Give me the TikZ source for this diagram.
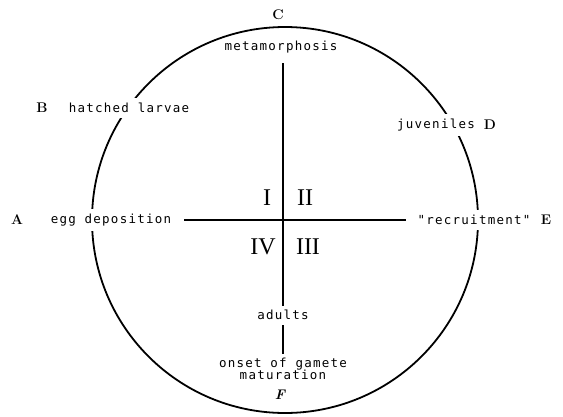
\documentclass[tikz,border=0pt]{standalone}
\usepackage{fontspec}
\newfontfamily\labfont[LetterSpace=10]{DejaVu Sans Mono}
\newfontfamily\numfont{Liberation Serif}
\begin{document}
\begin{tikzpicture}[x=1pt,y=-1pt,
  lab/.style={font=\labfont\fontsize{12.5}{14}\selectfont, inner sep=2pt},
  cutlab/.style={lab, fill=white, inner xsep=3pt, inner ysep=5pt},
  letter/.style={font=\fontsize{14}{16}\selectfont\bfseries, inner sep=1pt},
  quad/.style={font=\numfont\fontsize{24}{26}\selectfont, inner sep=0pt},
  ring/.style={line width=1.8pt},
  axis/.style={line width=1.7pt}]
\useasboundingbox (0,0) rectangle (563,416);
\coordinate (O) at (283,221);
\draw[ring] (285,220) circle[radius=193];
% labels on the ring
\node[cutlab] (hatch) at (129,108) {hatched larvae};
\node[letter] (B) at (42,108) {B};
\node[cutlab] (egg) at (111,220) {egg deposition};
\node[letter] (A) at (17,220) {A};
\node[cutlab] (recr) at (474,220) {"recruitment"};
\node[letter] (E) at (546,220) {E};
\node[cutlab] (juv) at (436,125) {juveniles};
\node[letter] (D) at (490,125) {D};
\node[letter] (C) at (278,15) {C};
\node[lab] (meta) at (281,47) {metamorphosis};
\node[lab] (adults) at (283,315) {adults};
\node[lab, align=center, inner sep=1pt] (onset) at (283,369) {onset of gamete\\[-2pt]maturation};
\node[font=\fontsize{14}{16}\selectfont\bfseries\itshape, inner sep=1pt] (F) at (280,395) {F};
% quadrants
\node[quad] (q1) at (267,198) {I};
\node[quad] (q2) at (305,198) {II};
\node[quad] (q4) at (263,247) {IV};
\node[quad] (q3) at (308,247) {III};
% axes
\draw[axis, shorten <=8pt, shorten >=2pt] (O |- meta.south) -- (O |- adults.north);
\draw[axis, shorten <=3pt, shorten >=3pt] (O |- adults.south) -- (O |- onset.north);
\draw[axis, shorten <=10pt, shorten >=8pt] (egg.east) -- (recr.west);
\end{tikzpicture}
\end{document}
